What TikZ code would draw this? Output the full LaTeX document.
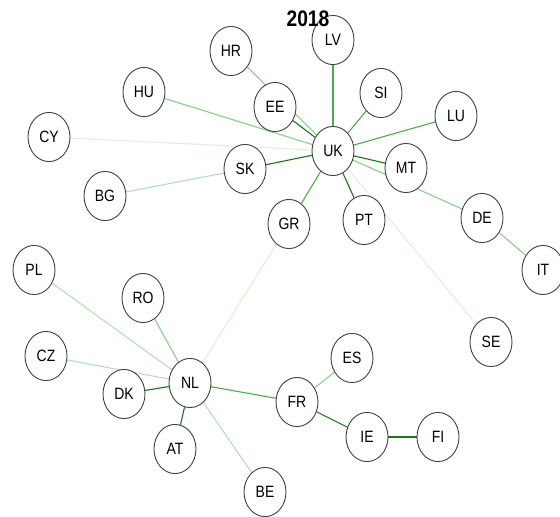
\documentclass[tikz,border=0pt]{standalone}
\usepackage{fontspec}
\setmainfont{Liberation Sans}
\usetikzlibrary{backgrounds}
\definecolor{wA}{RGB}{20,120,20}
\definecolor{wB}{RGB}{75,172,75}
\definecolor{wC}{RGB}{135,208,135}
\definecolor{wD}{RGB}{180,225,180}
\definecolor{wE}{RGB}{218,241,218}
\begin{document}
\begin{tikzpicture}[x=1pt, y=-1pt,
  cnode/.style={draw=black!75, line width=0.9pt, fill=white, circle, minimum size=42pt, inner sep=0pt,
    yscale=1.17, transform shape, font=\fontsize{14}{14}\selectfont},
  link/.style={line width=1.1pt}]
\useasboundingbox (0,0) rectangle (560,517);
\foreach \n/\x/\y in {LV/333/40, HR/231/51, SI/381/93, EE/275/107, UK/333/151, SK/245/169,
  MT/406/168, GR/289/224, PT/364/220, LU/456/116, HU/144/92, CY/49/137, BG/105/196,
  DE/482/218, IT/543/270, SE/491/342, PL/34/270, RO/143/298, CZ/46/356, DK/124/394,
  NL/190/383, AT/175/449, BE/265/492, FR/297/402, ES/352/358, IE/367/437, FI/438/437}{
  \node[cnode] (\n) at (\x,\y) {\n};}
\node[yscale=1.17, transform shape, font=\fontsize{19.2}{19}\selectfont\bfseries] (title) at (308,19) {2018};
\begin{scope}[on background layer]
\foreach \a/\b in {UK/SK, UK/MT, UK/PT, UK/EE, NL/DK, NL/AT, FR/IE, IE/FI}{\draw[link, wA] (\a) -- (\b);}
\foreach \a/\b in {UK/LV, UK/SI, UK/LU, UK/GR, NL/FR}{\draw[link, wB] (\a) -- (\b);}
\foreach \a/\b in {FR/ES, UK/DE, DE/IT, HR/UK, UK/HU, NL/RO}{\draw[link, wC] (\a) -- (\b);}
\foreach \a/\b in {SK/BG, NL/PL, NL/CZ, NL/BE}{\draw[link, wD] (\a) -- (\b);}
\foreach \a/\b in {UK/CY, UK/SE, GR/NL}{\draw[link, wE] (\a) -- (\b);}
\end{scope}
\end{tikzpicture}
\end{document}
